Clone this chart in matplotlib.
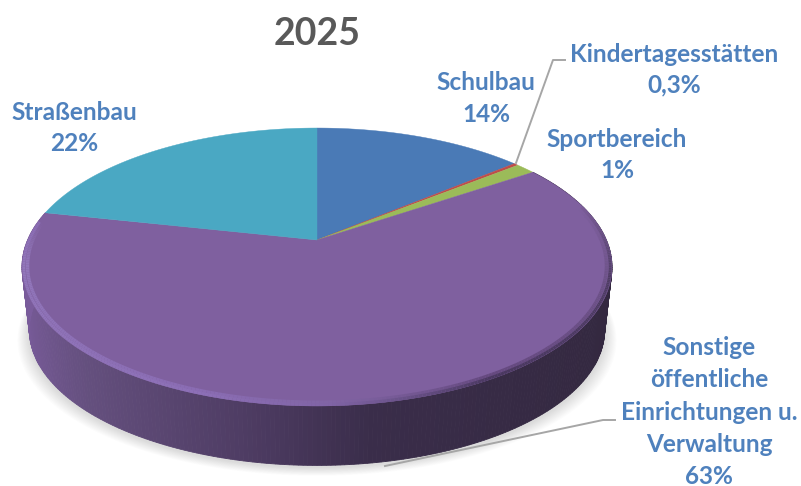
import numpy as np
from matplotlib import pyplot as plt
from matplotlib.colors import to_rgb
from matplotlib.collections import LineCollection

plt.rcParams['font.family'] = ['Lato', 'DejaVu Sans']

# Data
categories = ['Schulbau', 'Kindertagesstätten', 'Sportbereich',
              'Sonstige\nöffentliche\nEinrichtungen u.\nVerwaltung', 'Straßenbau']
percent_labels = ['14%', '0,3%', '1%', '63%', '22%']
values = [13.9, 0.3, 1.3, 62.9, 21.6]
colors = ['#4a7ab6', '#bf4d4a', '#9bbb59', '#7f609f', '#4aa8c3']

name_pos = [(486, 83), (674, 55), (617, 139), (709, 396), (74, 112)]
pct_y = [114, 85, 170, 476, 143]

# Perspective of the pie
CX, CY = 317, 240
A, B, K = 289.4, 133.7, 0.194
MID_Y = 267
DEPTH = 63
SHRINK = 0.975


def project(ang, r=1.0):
    u = r * np.sin(ang)
    v = r * np.cos(ang)
    w = 1 + K * v
    return CX + A * u / w, CY - B * v / w


def project_bottom(ang):
    x, y = project(ang)
    return CX + SHRINK * (x - CX), MID_Y + DEPTH + SHRINK * (y - MID_Y)


def rim_layer(stops, r, lw):
    # band along the front edge of the large slice, coloured by its angle
    rgb = np.array([to_rgb(s[1]) for s in stops])
    degs = [s[0] for s in stops]
    ang = np.linspace(np.radians(degs[0]), np.radians(degs[-1]), 300)
    rx, ry = project(ang, r)
    pts = np.column_stack([rx, ry])
    segs = np.stack([pts[:-1], pts[1:]], axis=1)
    mid = np.degrees((ang[:-1] + ang[1:]) / 2)
    cols = np.column_stack([np.interp(mid, degs, rgb[:, i]) for i in range(3)])
    ax.add_collection(LineCollection(segs, colors=cols, linewidths=lw, zorder=4))


fig = plt.figure(figsize=(8.01, 4.86), dpi=100)
ax = fig.add_axes([0, 0, 1, 1])
ax.set_xlim(0, 801)
ax.set_ylim(486, 0)
ax.axis('off')

edges = np.concatenate([[0], np.cumsum(values)]) / np.sum(values) * 2 * np.pi

# Soft shadow under the pie
full = np.linspace(0, 2 * np.pi, 361)
bx, by = project_bottom(full)
for grow in np.linspace(12, 1, 12):
    ax.fill(CX + (bx - CX) * (1 + grow / 290), by + 2 + grow * 0.7,
            color='black', alpha=0.012, lw=0, zorder=1)

# Side wall of the large slice
side_stops = [(-1.0, '#7a5c9c'), (-0.7, '#65507f'), (-0.2, '#4e3c63'),
              (0.15, '#3a2d4a'), (1.0, '#33283f')]
stop_x = [s[0] for s in side_stops]
stop_rgb = np.array([to_rgb(s[1]) for s in side_stops])


def side_color(ang):
    t = np.sin(ang)
    return [np.interp(t, stop_x, stop_rgb[:, i]) for i in range(3)]


side_angles = np.linspace(edges[3], edges[4], 300)
for a0, a1 in zip(side_angles[:-1], side_angles[1:]):
    x0, y0 = project(a0)
    x1, y1 = project(a1)
    x2, y2 = project_bottom(a1)
    x3, y3 = project_bottom(a0)
    c = side_color((a0 + a1) / 2)
    ax.fill([x0, x1, x2, x3], [y0, y1, y2, y3], color=c, lw=0.6, ec=c, zorder=2)

# Top faces
for i, col in enumerate(colors):
    ang = np.linspace(edges[i], edges[i + 1], 200)
    x, y = project(ang)
    ax.fill(np.r_[CX, x], np.r_[CY, y], color=col, lw=0.3, ec=col, zorder=3)

# Bevel: dark and blurred on the right, light on the left
face = colors[3]
rim_layer([(75, face), (105, '#6e5389'), (150, '#65497f'), (178, '#8165a5'), (200, '#8a6cb3'),
           (260, '#9277bb'), (278, face)], 0.982, 2.5)
rim_layer([(75, '#7a5c98'), (105, '#4f3d64'), (150, '#4a3860'), (178, '#8064a6'), (200, '#8d70b7'),
           (260, '#9277bb'), (278, '#8a6cb3')], 0.994, 2.2)

# Leader lines
ax.plot([516, 553, 565], [163, 60, 60], color='#a6a6a6', lw=1.4, zorder=5)
ax.plot([385, 603, 615], [466, 420, 420], color='#a6a6a6', lw=1.4, zorder=5)

# Labels
for name, pct, (lx, ly), py in zip(categories, percent_labels, name_pos, pct_y):
    ax.text(lx, ly, name, ha='center', va='center', color='#4f81bd',
            fontsize=17.6, fontweight='bold', linespacing=1.5, zorder=6)
    ax.text(lx, py, pct, ha='center', va='center', color='#4f81bd',
            fontsize=17.6, fontweight='bold', zorder=6)

ax.text(317, 34, '2025', ha='center', va='center', color='#595959',
        fontsize=27, fontweight='bold', zorder=6)

fig.savefig('out.png', dpi=100)
